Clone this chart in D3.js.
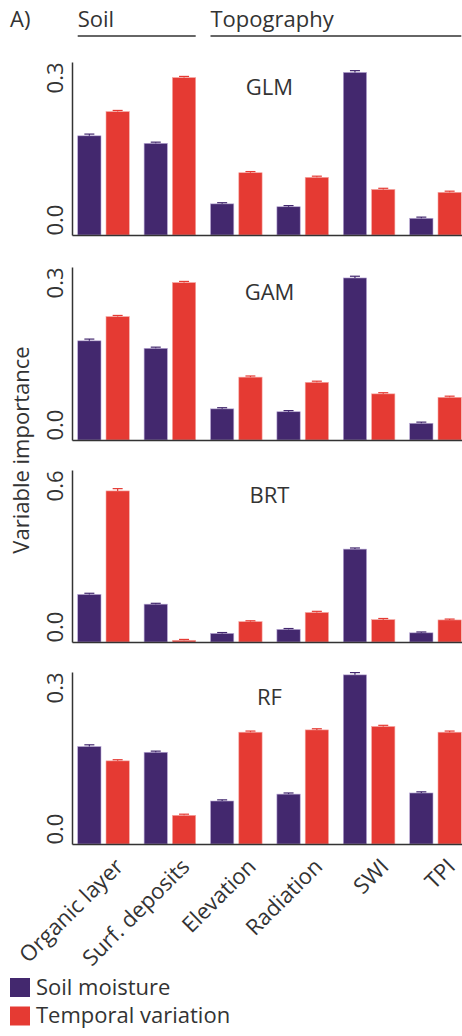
<!DOCTYPE html>
<html>
<head>
<meta charset="utf-8">
<script src="https://cdn.jsdelivr.net/npm/d3@7"></script>
<style>
  html, body { margin: 0; padding: 0; background: #fff; }
  svg { display: block; }
  text { font-family: "Open Sans", "DejaVu Sans", sans-serif; fill: #333; }
</style>
</head>
<body>
<svg id="chart" width="462" height="1036"></svg>
<script>
// ---- data ----
const categories = ["Organic layer", "Surf. deposits", "Elevation", "Radiation", "SWI", "TPI"];
const seriesNames = ["Soil moisture", "Temporal variation"];
const models = ["GLM", "GAM", "BRT", "RF"];
const groupNames = ["Soil", "Topography"];
const groupSoil = ["Organic layer", "Surf. deposits"];
const groupTopo = ["Elevation", "Radiation", "SWI", "TPI"];

const glmSoilMoisture = [0.172, 0.159, 0.054, 0.049, 0.282, 0.029];
const glmTemporal     = [0.214, 0.273, 0.108, 0.100, 0.079, 0.074];
const gamSoilMoisture = [0.172, 0.159, 0.054, 0.049, 0.281, 0.029];
const gamTemporal     = [0.214, 0.273, 0.109, 0.100, 0.080, 0.074];
const brtSoilMoisture = [0.166, 0.132, 0.030, 0.044, 0.324, 0.032];
const brtTemporal     = [0.527, 0.006, 0.071, 0.103, 0.078, 0.077];
const rfSoilMoisture  = [0.170, 0.160, 0.075, 0.087, 0.295, 0.089];
const rfTemporal      = [0.145, 0.050, 0.195, 0.199, 0.205, 0.195];

const glmSoilErr = [0.003, 0.002, 0.002, 0.002, 0.003, 0.002];
const glmTempErr = [0.002, 0.002, 0.002, 0.002, 0.002, 0.002];
const gamSoilErr = [0.003, 0.002, 0.002, 0.002, 0.003, 0.002];
const gamTempErr = [0.002, 0.002, 0.002, 0.002, 0.002, 0.002];
const brtSoilErr = [0.004, 0.003, 0.003, 0.003, 0.004, 0.003];
const brtTempErr = [0.008, 0.003, 0.003, 0.004, 0.004, 0.003];
const rfSoilErr  = [0.003, 0.002, 0.002, 0.002, 0.004, 0.002];
const rfTempErr  = [0.002, 0.002, 0.002, 0.002, 0.002, 0.002];

const yMax = [0.3, 0.3, 0.6, 0.3];
const yTickValues = [[0, 0.3], [0, 0.3], [0, 0.6], [0, 0.3]];

const modelValues = [
  [glmSoilMoisture, glmTemporal],
  [gamSoilMoisture, gamTemporal],
  [brtSoilMoisture, brtTemporal],
  [rfSoilMoisture, rfTemporal]
];
const modelErrors = [
  [glmSoilErr, glmTempErr],
  [gamSoilErr, gamTempErr],
  [brtSoilErr, brtTempErr],
  [rfSoilErr, rfTempErr]
];

// ---- layout ----
const colors = ["#43286e", "#e53a33"];
const edge = ["#b9a9d6", "#f6a8a3"];
const axisX = 72;
const panelTops = [62, 267, 470, 672];
const panelBottoms = [235, 440, 642, 844];
const fontSize = 22;

const svg = d3.select("#chart");

const x = d3.scaleBand().domain(categories).range([axisX, 467])
  .paddingInner(0.223).paddingOuter(0.086);
const xs = d3.scaleBand().domain(d3.range(seriesNames.length)).range([0, x.bandwidth()])
  .paddingInner(0.177).paddingOuter(0);

// header
svg.append("text").attr("x", 10).attr("y", 27).attr("font-size", fontSize).text("A)");
const headerGroups = [groupSoil, groupTopo];
headerGroups.forEach((cats, i) => {
  const x0 = x(cats[0]);
  const x1 = x(cats[cats.length - 1]) + x.bandwidth();
  svg.append("text").attr("x", x0).attr("y", 27).attr("font-size", fontSize).text(groupNames[i]);
  svg.append("line").attr("x1", x0).attr("x2", x1).attr("y1", 36).attr("y2", 36)
    .attr("stroke", "#333").attr("stroke-width", 1.5);
});

models.forEach((m, mi) => {
  const top = panelTops[mi], bottom = panelBottoms[mi];
  const y = d3.scaleLinear().domain([0, yMax[mi]]).range([bottom, top]);
  const g = svg.append("g");

  // bars
  seriesNames.forEach((s, si) => {
    const vals = modelValues[mi][si];
    const errs = modelErrors[mi][si];
    const sg = g.append("g");
    sg.selectAll("rect").data(categories).join("rect")
      .attr("x", (c) => x(c) + xs(si))
      .attr("y", (c, i) => y(vals[i]))
      .attr("width", xs.bandwidth())
      .attr("height", (c, i) => bottom - y(vals[i]))
      .attr("fill", colors[si])
      .attr("stroke", edge[si])
      .attr("stroke-width", 0.6);
    // error bars
    const eg = sg.selectAll("g.err").data(categories).join("g").attr("class", "err");
    eg.append("line")
      .attr("x1", (c) => x(c) + xs(si) + xs.bandwidth() / 2)
      .attr("x2", (c) => x(c) + xs(si) + xs.bandwidth() / 2)
      .attr("y1", (c, i) => y(vals[i] + errs[i]))
      .attr("y2", (c, i) => y(vals[i]))
      .attr("stroke", colors[si]).attr("stroke-width", 1.2);
    eg.append("line")
      .attr("x1", (c) => x(c) + xs(si) + xs.bandwidth() / 2 - 5)
      .attr("x2", (c) => x(c) + xs(si) + xs.bandwidth() / 2 + 5)
      .attr("y1", (c, i) => y(vals[i] + errs[i]))
      .attr("y2", (c, i) => y(vals[i] + errs[i]))
      .attr("stroke", colors[si]).attr("stroke-width", 1.2);
  });

  // y axis
  const ya = g.append("g").attr("transform", `translate(${axisX},0)`)
    .call(d3.axisLeft(y).tickValues(yTickValues[mi]).tickSize(0).tickSizeOuter(0)
      .tickFormat(d3.format(".1f")));
  ya.select(".domain").attr("stroke", "#333").attr("stroke-width", 1.5);
  ya.selectAll(".tick text")
    .attr("font-size", fontSize)
    .attr("font-family", null)
    .attr("fill", "#333")
    .attr("transform", "rotate(-90)")
    .attr("x", 0).attr("y", -9).attr("dy", 0)
    .attr("text-anchor", (d) => d === 0 ? "start" : "end");

  // x axis
  const xa = g.append("g").attr("transform", `translate(0,${bottom})`)
    .call(d3.axisBottom(x).tickSize(0).tickSizeOuter(0));
  xa.select(".domain").attr("stroke", "#333").attr("stroke-width", 1.5);
  if (mi === models.length - 1) {
    xa.selectAll(".tick text")
      .attr("font-size", fontSize)
      .attr("font-family", null)
      .attr("fill", "#333")
      .attr("x", 0).attr("y", 0).attr("dy", 0)
      .attr("text-anchor", "end")
      .attr("transform", "translate(21,24) rotate(-45)");
  } else {
    xa.selectAll(".tick text").remove();
  }

  // model title
  g.append("text")
    .attr("x", (axisX + 467) / 2)
    .attr("y", top + 33)
    .attr("text-anchor", "middle")
    .attr("font-size", fontSize)
    .text(m);
});

// y axis title
svg.append("text")
  .attr("transform", "translate(29,450) rotate(-90)")
  .attr("text-anchor", "middle")
  .attr("font-size", fontSize)
  .text("Variable importance");

// legend
const legend = svg.append("g");
seriesNames.forEach((s, i) => {
  legend.append("rect").attr("x", 10).attr("y", 978 + i * 28.5)
    .attr("width", 20).attr("height", 19).attr("fill", colors[i]);
  legend.append("text").attr("x", 36).attr("y", 995 + i * 28)
    .attr("font-size", fontSize).text(s);
});
</script>
</body>
</html>
